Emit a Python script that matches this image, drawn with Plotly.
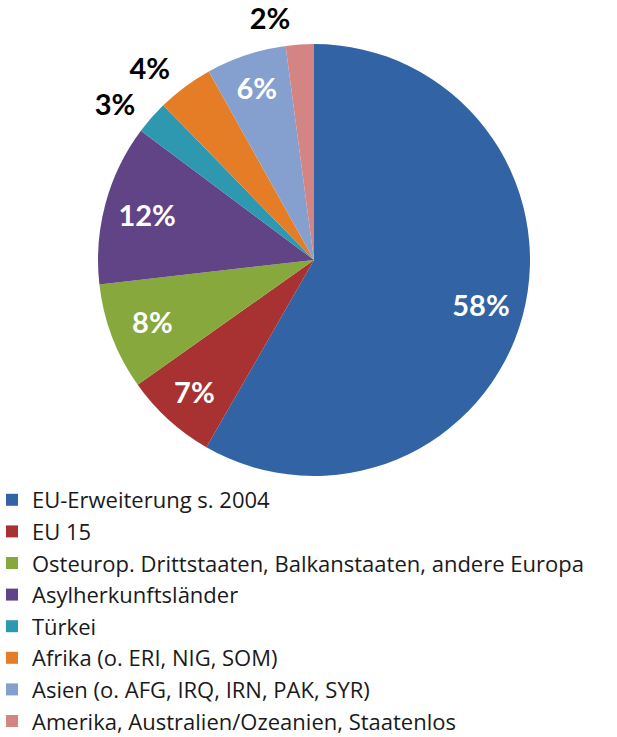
import plotly.graph_objects as go

categories = [
    "EU-Erweiterung s. 2004",
    "EU 15",
    "Osteurop. Drittstaaten, Balkanstaaten, andere Europa",
    "Asylherkunftsländer",
    "Türkei",
    "Afrika (o. ERI, NIG, SOM)",
    "Asien (o. AFG, IRQ, IRN, PAK, SYR)",
    "Amerika, Australien/Ozeanien, Staatenlos",
]
shares = [58.3, 6.9, 8.0, 12.0, 2.5, 4.2, 6.0, 2.1]
pct_labels = ["58%", "7%", "8%", "12%", "3%", "4%", "6%", "2%"]
label_outside = [False, False, False, False, True, True, False, True]
colors = ["#3163A5", "#A83232", "#86A83C", "#614486", "#2E98B0", "#E57D27", "#859FCE", "#D38483"]

W, H = 617, 737
cx, cy, r = 314, 260, 216


def dom(rad):
    return dict(x=[(cx - rad) / W, (cx + rad) / W], y=[1 - (cy + rad) / H, 1 - (cy - rad) / H])


inside_text = [("" if o else t) for t, o in zip(pct_labels, label_outside)]
outside_text = [(t if o else "") for t, o in zip(pct_labels, label_outside)]
clear = ["rgba(0,0,0,0)"] * len(categories)

fig = go.Figure()
# coloured pie (also drives the legend)
fig.add_trace(go.Pie(
    labels=categories, values=shares, sort=False, direction="clockwise", rotation=0,
    marker=dict(colors=colors, line=dict(width=0)),
    textinfo="none", domain=dom(r), hoverinfo="label+percent",
))
# inside percentage labels, placed further out via a ring
fig.add_trace(go.Pie(
    labels=categories, values=shares, sort=False, direction="clockwise", rotation=0,
    hole=0.6, marker=dict(colors=clear, line=dict(width=0)),
    text=inside_text, textinfo="text", textposition="inside",
    insidetextorientation="horizontal",
    textfont=dict(family="Lato", size=29, color="white", weight="bold"),
    domain=dom(r), showlegend=False, hoverinfo="skip",
))
# outside percentage labels
fig.add_trace(go.Pie(
    labels=categories, values=shares, sort=False, direction="clockwise", rotation=0,
    marker=dict(colors=clear, line=dict(width=0)),
    text=outside_text, textinfo="text", textposition="outside",
    outsidetextfont=dict(family="Lato", size=29, color="black", weight="bold"),
    domain=dom(r + 10), showlegend=False, hoverinfo="skip",
))

fig.update_layout(
    width=W, height=H,
    margin=dict(l=0, r=0, t=0, b=0, autoexpand=False),
    paper_bgcolor="white",
    showlegend=True,
    legend=dict(
        x=-8 / W, xanchor="left", y=1 - 479 / H, yanchor="top",
        font=dict(family="Open Sans", size=22, color="#1a1a1a"),
        traceorder="normal",
        bgcolor="rgba(0,0,0,0)",
        maxheight=400,
    ),
)

fig.write_html("out.html")
